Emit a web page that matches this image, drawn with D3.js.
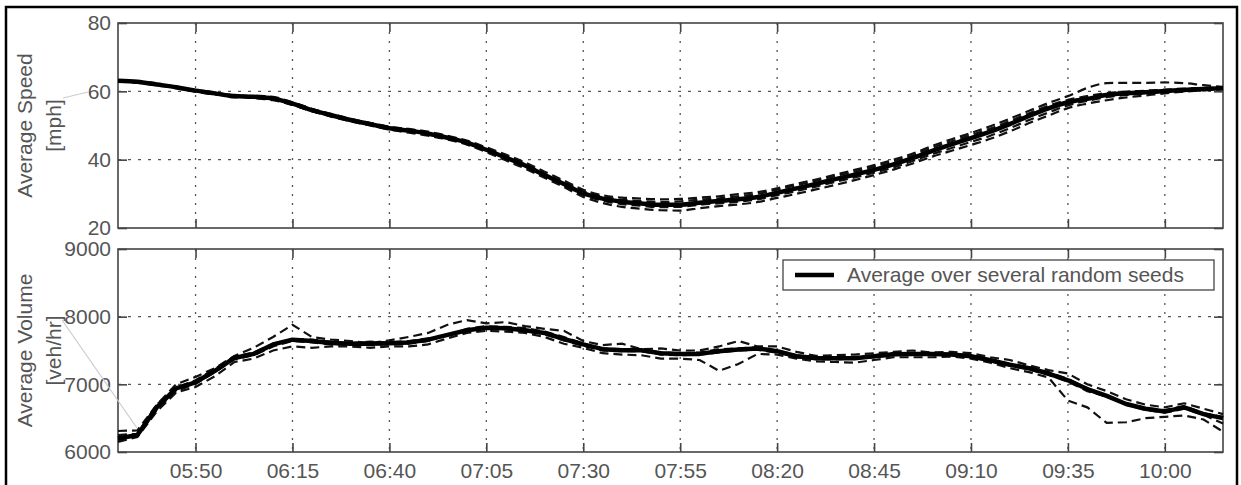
<!DOCTYPE html>
<html>
<head>
<meta charset="utf-8">
<script src="https://cdn.jsdelivr.net/npm/d3@7"></script>
<style>
  body { margin: 0; background: #fff; }
  text { font-family: "Liberation Sans", Arial, sans-serif; }
</style>
</head>
<body>
<script>
// time grid, 5 minute steps 05:30 .. 10:15
const times = ["05:30","05:35","05:40","05:45","05:50","05:55","06:00","06:05","06:10","06:15",
  "06:20","06:25","06:30","06:35","06:40","06:45","06:50","06:55","07:00","07:05",
  "07:10","07:15","07:20","07:25","07:30","07:35","07:40","07:45","07:50","07:55",
  "08:00","08:05","08:10","08:15","08:20","08:25","08:30","08:35","08:40","08:45",
  "08:50","08:55","09:00","09:05","09:10","09:15","09:20","09:25","09:30","09:35",
  "09:40","09:45","09:50","09:55","10:00","10:05","10:10","10:15"];

const xTickLabels = ["05:50","06:15","06:40","07:05","07:30","07:55","08:20","08:45","09:10","09:35","10:00"];
const speedTicks = [20, 40, 60, 80];
const volumeTicks = [6000, 7000, 8000, 9000];

// average speed [mph]
const speedMean = [63.1,62.8,62.0,61.2,60.2,59.4,58.6,58.4,57.9,56.4,
  54.5,53.0,51.6,50.4,49.2,48.5,47.6,46.4,45.0,42.9,
  40.6,38.3,35.5,32.9,30.2,28.6,27.7,27.2,26.8,26.8,
  27.4,27.9,28.4,29.1,30.3,31.6,32.9,34.3,35.6,37.0,
  38.6,40.5,42.6,44.5,46.3,48.2,50.4,52.8,55.0,56.8,
  57.8,58.9,59.4,59.7,60.1,60.4,60.7,60.9];

const speedSeeds = [
  [63.3,62.9,62.3,61.0,60.4,59.6,58.2,58.7,58.4,56.8,54.9,53.4,51.9,50.8,49.6,49.0,48.2,47.0,45.6,43.6,
   41.5,39.2,36.5,33.9,31.2,29.6,28.9,28.6,28.4,28.5,28.9,29.3,29.9,30.5,31.6,32.9,34.2,35.6,37.0,38.4,
   40.0,41.8,44.0,46.0,47.8,49.8,52.0,54.3,56.6,58.6,61.0,62.4,62.5,62.5,62.6,62.4,61.8,61.3],
  [63.0,62.6,61.7,61.3,59.9,59.1,58.9,58.0,57.4,56.0,54.2,52.6,51.2,50.0,48.8,47.9,47.0,45.9,44.4,42.2,
   39.8,37.4,34.7,32.0,29.1,27.3,26.2,25.6,25.2,25.1,25.8,26.4,26.9,27.6,28.8,30.0,31.3,32.6,34.0,35.5,
   37.1,38.9,40.9,42.6,44.3,46.1,48.3,50.7,52.9,55.1,56.4,57.4,58.2,58.8,59.4,59.9,60.3,60.6],
  [63.2,62.7,62.1,61.4,60.1,59.6,58.8,58.5,57.6,56.7,54.8,53.2,51.7,50.6,49.6,48.9,47.9,46.8,45.4,43.2,
   40.9,38.8,35.9,33.4,30.8,29.2,28.3,27.9,27.6,27.8,28.3,28.7,29.3,30.0,31.2,32.5,33.8,35.2,36.5,37.9,
   39.5,41.3,43.5,45.4,47.2,49.1,51.3,53.6,55.8,57.5,58.6,59.5,59.9,60.2,60.5,60.8,61.0,61.2],
  [62.9,62.5,61.9,60.9,60.0,59.2,58.4,58.2,57.7,56.1,54.2,52.8,51.4,50.2,49.0,48.1,47.3,46.0,44.6,42.6,
   40.2,37.9,35.2,32.5,29.7,28.0,27.0,26.5,26.1,26.2,26.8,27.2,27.7,28.4,29.6,30.8,32.1,33.5,34.8,36.2,
   37.7,39.6,41.6,43.4,45.2,47.0,49.2,51.6,53.8,55.9,57.2,58.3,58.9,59.3,59.7,60.1,60.4,60.7]
];

// average volume [veh/hr]
const volumeMean = [6200,6250,6660,6940,7030,7200,7390,7450,7590,7660,
  7640,7610,7600,7600,7606,7620,7660,7730,7800,7835,
  7830,7800,7760,7670,7590,7520,7505,7505,7460,7448,
  7450,7490,7515,7530,7490,7415,7390,7385,7385,7415,
  7445,7450,7448,7440,7415,7355,7290,7237,7160,7060,
  6930,6830,6710,6640,6600,6660,6560,6500];

const volumeSeeds = [
  [6310,6320,6700,7000,7110,7240,7420,7540,7700,7880,7700,7660,7640,7610,7650,7700,7760,7880,7950,7900,
   7920,7860,7820,7790,7640,7580,7600,7520,7530,7500,7500,7560,7640,7560,7560,7480,7420,7430,7440,7460,
   7480,7500,7470,7480,7460,7400,7360,7280,7210,7160,7000,6900,6780,6700,6660,6720,6640,6560],
  [6150,6220,6600,6880,6960,7120,7330,7380,7500,7560,7540,7560,7560,7540,7560,7560,7590,7680,7760,7790,
   7780,7760,7700,7600,7540,7460,7440,7430,7380,7380,7360,7200,7300,7450,7440,7380,7340,7330,7320,7360,
   7400,7400,7400,7410,7380,7320,7240,7180,7100,6760,6660,6430,6440,6500,6520,6540,6480,6300],
  [6250,6270,6700,6950,7060,7230,7410,7470,7600,7670,7660,7630,7610,7630,7620,7640,7680,7720,7820,7860,
   7850,7830,7780,7700,7600,7530,7520,7510,7470,7460,7470,7520,7530,7550,7500,7430,7400,7400,7400,7430,
   7460,7460,7450,7450,7430,7370,7300,7250,7180,7080,6940,6830,6720,6650,6620,6680,6570,6520],
  [6180,6240,6620,6900,7010,7180,7370,7430,7560,7640,7620,7590,7590,7580,7590,7600,7640,7740,7780,7820,
   7810,7780,7740,7650,7570,7500,7490,7490,7440,7430,7440,7470,7500,7510,7470,7400,7370,7370,7380,7400,
   7430,7440,7440,7430,7400,7340,7280,7220,7140,7040,6900,6820,6700,6620,6580,6640,6550,6420]
];

const width = 1241, height = 485,
    left = 118, right = 1223,
    textColor = "#555", frameColor = "#444",
    toMin = s => { const p = s.split(":"); return +p[0] * 60 + +p[1]; },
    fmtTime = m => d3.format("02d")(Math.floor(m / 60)) + ":" + d3.format("02d")(m % 60),
    x = d3.scaleLinear().domain([toMin("05:30"), toMin("10:15")]).range([left, right]),
    xTicks = xTickLabels.map(toMin);

const svg = d3.select("body").append("svg")
    .attr("width", width)
    .attr("height", height);

svg.append("rect").attr("width", width).attr("height", height).attr("fill", "#fff");

const panel = (top, bottom, yDomain, yTicks, showX, mean, seeds, curve, label) => {
    const y = d3.scaleLinear().domain(yDomain).range([bottom, top]);
    const g = svg.append("g");

    // dotted grid
    g.selectAll(".vgrid").data(xTicks).join("line")
        .attr("x1", d => x(d)).attr("x2", d => x(d))
        .attr("y1", top).attr("y2", bottom)
        .attr("stroke", "#555").attr("stroke-width", 1.3).attr("stroke-dasharray", "2,7");
    g.selectAll(".hgrid").data(yTicks.slice(1, -1)).join("line")
        .attr("x1", left).attr("x2", right)
        .attr("y1", d => y(d)).attr("y2", d => y(d))
        .attr("stroke", "#555").attr("stroke-width", 1.3).attr("stroke-dasharray", "3,7");

    // inside ticks on all four sides
    const axes = [
        [d3.axisBottom(x).tickValues(xTicks).tickFormat(showX ? fmtTime : ""), `translate(0,${bottom})`],
        [d3.axisTop(x).tickValues(xTicks).tickFormat(""), `translate(0,${top})`],
        [d3.axisLeft(y).tickValues(yTicks).tickFormat(d3.format("d")), `translate(${left},0)`],
        [d3.axisRight(y).tickValues(yTicks).tickFormat(""), `translate(${right},0)`]
    ];
    axes.forEach(([ax, tr], i) => {
        const a = g.append("g").attr("transform", tr)
            .call(ax.tickSizeInner(-9).tickSizeOuter(0).tickPadding(i == 0 ? 11 : 7));
        a.select(".domain").remove();
        a.selectAll("line").attr("stroke", frameColor).attr("stroke-width", 1.6);
        a.selectAll("text").attr("fill", textColor).style("font-size", "21px")
            .style("font-family", "'Liberation Sans', Arial, sans-serif");
    });

    g.append("rect")
        .attr("x", left).attr("y", top)
        .attr("width", right - left).attr("height", bottom - top)
        .attr("fill", "none").attr("stroke", frameColor).attr("stroke-width", 1.6);

    const line = d3.line()
        .x((d, i) => x(toMin(times[i])))
        .y(d => y(d))
        .curve(curve);

    g.selectAll(".seed").data(seeds).join("path")
        .attr("d", line)
        .attr("fill", "none").attr("stroke", "#111")
        .attr("stroke-width", 2.2).attr("stroke-dasharray", "9,5");

    g.append("path").datum(mean)
        .attr("d", line)
        .attr("fill", "none").attr("stroke", "#000")
        .attr("stroke-width", 4.5).attr("stroke-linejoin", "round");

    // two-line y label, rotated
    const cy = (top + bottom) / 2;
    label.forEach((t, i) => {
        svg.append("text")
            .attr("transform", `translate(${i == 0 ? 32 : 61},${cy}) rotate(-90)`)
            .attr("text-anchor", "middle")
            .attr("fill", textColor)
            .style("font-size", "21px")
            .text(t);
    });
    return y;
};

panel(23, 228, [20, 80], speedTicks, false, speedMean, speedSeeds, d3.curveMonotoneX, ["Average Speed", "[mph]"]);
panel(249, 452, [6000, 9000], volumeTicks, true, volumeMean, volumeSeeds, d3.curveLinear, ["Average Volume", "[veh/hr]"]);

// legend
const lg = svg.append("g").attr("transform", "translate(783,260)");
lg.append("rect").attr("width", 431).attr("height", 30)
    .attr("fill", "#fff").attr("stroke", frameColor).attr("stroke-width", 1.3);
lg.append("line").attr("x1", 12).attr("x2", 51).attr("y1", 15).attr("y2", 15)
    .attr("stroke", "#000").attr("stroke-width", 4.5);
lg.append("text").attr("x", 64).attr("y", 22)
    .attr("fill", textColor).style("font-size", "21px")
    .text("Average over several random seeds");

// faint leader lines left over in the scan
svg.append("line").attr("x1", 63).attr("y1", 98).attr("x2", 88).attr("y2", 92)
    .attr("stroke", "#ccc").attr("stroke-width", 1.2);
svg.append("line").attr("x1", 62).attr("y1", 320).attr("x2", 137).attr("y2", 428)
    .attr("stroke", "#ccc").attr("stroke-width", 1.2);

// outer frame of the figure
svg.append("rect").attr("x", 6).attr("y", 7).attr("width", 1231).attr("height", 500)
    .attr("fill", "none").attr("stroke", "#000").attr("stroke-width", 2.5);
</script>
</body>
</html>
